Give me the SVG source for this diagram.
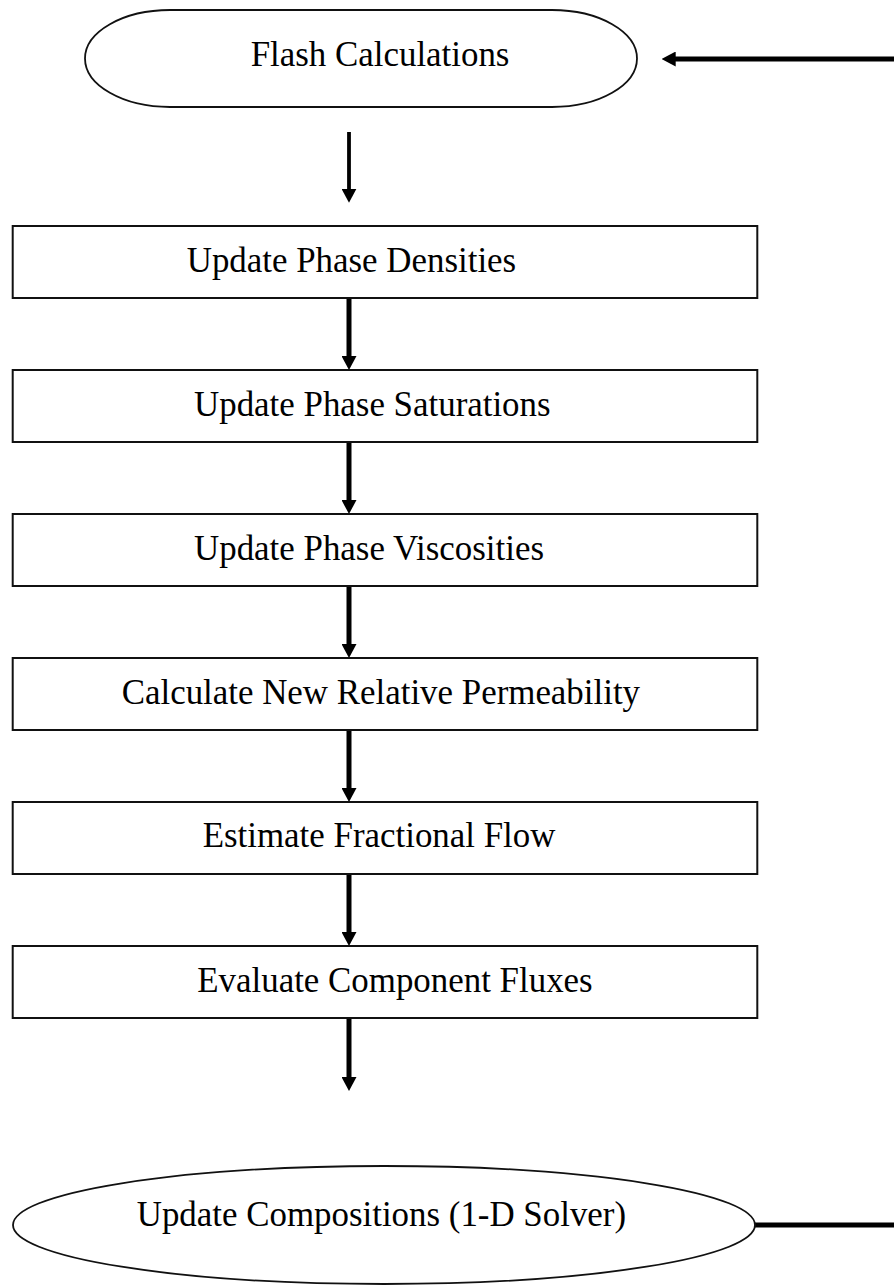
<svg xmlns="http://www.w3.org/2000/svg" width="894" height="1285" viewBox="0 0 894 1285">
  <style>
    .lbl { font-family: "Liberation Serif", "Times New Roman", serif; font-size: 34.9px; fill: #000; }
    .box { fill: #fff; stroke: #111; stroke-width: 2; }
    .oval { fill: #fff; stroke: #111; stroke-width: 1.8; }
    .conn { stroke: #000; stroke-width: 5; fill: none; }
    .conn-thin { stroke: #000; stroke-width: 3.8; fill: none; }
  </style>
  <defs>
    <marker id="ah" viewBox="0 0 14 15" refX="2" refY="7.5" markerWidth="14" markerHeight="15" markerUnits="userSpaceOnUse" orient="auto">
      <path d="M0,0 L14,7.5 L0,15 Z" fill="#000"/>
    </marker>
  </defs>
  <rect width="894" height="1285" fill="#fff"/>

  <g id="connectors">
    <line class="conn" x1="894" y1="59" x2="673.7" y2="59" marker-end="url(#ah)"/>
    <line class="conn-thin" x1="349" y1="132" x2="349" y2="190.7" marker-end="url(#ah)"/>
    <line class="conn" x1="349" y1="299" x2="349" y2="358" marker-end="url(#ah)"/>
    <line class="conn" x1="349" y1="443" x2="349" y2="502" marker-end="url(#ah)"/>
    <line class="conn" x1="349" y1="587" x2="349" y2="646" marker-end="url(#ah)"/>
    <line class="conn" x1="349" y1="731" x2="349" y2="790" marker-end="url(#ah)"/>
    <line class="conn" x1="349" y1="875" x2="349" y2="934" marker-end="url(#ah)"/>
    <line class="conn" x1="349" y1="1019" x2="349" y2="1079" marker-end="url(#ah)"/>
    <line class="conn" x1="755" y1="1225" x2="894" y2="1225"/>
  </g>

  <g id="node-flash">
    <rect class="oval" x="85" y="10" width="552" height="97" rx="85" ry="48.5"/>
    <text class="lbl" x="250.7" y="66">Flash Calculations</text>
  </g>
  <g id="node-densities">
    <rect class="box" x="12.7" y="226" width="744.6" height="72"/>
    <text class="lbl" x="186.7" y="271.7">Update Phase Densities</text>
  </g>
  <g id="node-saturations">
    <rect class="box" x="12.7" y="370" width="744.6" height="72"/>
    <text class="lbl" x="194" y="415.5">Update Phase Saturations</text>
  </g>
  <g id="node-viscosities">
    <rect class="box" x="12.7" y="514" width="744.6" height="72"/>
    <text class="lbl" x="194" y="559.5">Update Phase Viscosities</text>
  </g>
  <g id="node-relperm">
    <rect class="box" x="12.7" y="658" width="744.6" height="72"/>
    <text class="lbl" x="121.7" y="704">Calculate New Relative Permeability</text>
  </g>
  <g id="node-fracflow">
    <rect class="box" x="12.7" y="802" width="744.6" height="72"/>
    <text class="lbl" x="202.7" y="847">Estimate Fractional Flow</text>
  </g>
  <g id="node-fluxes">
    <rect class="box" x="12.7" y="946" width="744.6" height="72"/>
    <text class="lbl" x="197.3" y="991.7">Evaluate Component Fluxes</text>
  </g>
  <g id="node-compositions">
    <ellipse class="oval" cx="384" cy="1225" rx="371" ry="59"/>
    <text class="lbl" x="136.7" y="1225.5">Update Compositions (1-D Solver)</text>
  </g>
</svg>
